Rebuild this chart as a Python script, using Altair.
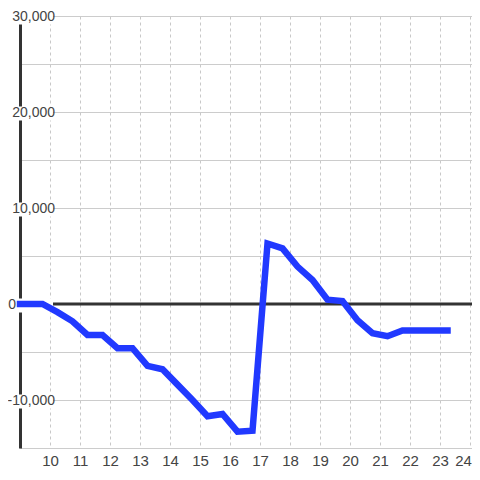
import altair as alt
import pandas as pd

# data
hours = [9.0, 9.75, 10.25, 10.75, 11.25, 11.75, 12.25, 12.75, 13.25, 13.75,
         14.25, 14.75, 15.25, 15.75, 16.25, 16.75, 17.25, 17.75, 18.25, 18.75,
         19.25, 19.75, 20.25, 20.75, 21.25, 21.75, 22.25, 22.75, 23.25]
values = [0, 0, -850, -1800, -3230, -3230, -4600, -4600, -6450, -6800,
          -8400, -10000, -11700, -11450, -13300, -13200, 6300, 5800, 3900, 2500,
          450, 300, -1700, -3050, -3350, -2750, -2750, -2750, -2750]

y_tick_vals = [30000, 20000, 10000, 0, -10000]
y_tick_text = ["30,000", "20,000", "10,000", "0", "-10,000"]
grid_vals = [-15000, -10000, -5000, 0, 5000, 10000, 15000, 20000, 25000, 30000]
x_ticks = list(range(10, 25))

df = pd.DataFrame({"h": hours, "v": values})
ylab = pd.DataFrame({"v": y_tick_vals, "t": y_tick_text})
zero = pd.DataFrame({"v": [0]})

W, H = 452, 432
XD = [9, 9 + W / 30.0]
YD = [-15000, 30000]

xs = alt.Scale(domain=XD, nice=False, zero=False)
ys = alt.Scale(domain=YD, nice=False, zero=False)

base_x = alt.X("h:Q", scale=xs, title=None,
               axis=alt.Axis(values=x_ticks, grid=True, gridDash=[3, 3], gridColor="#c8c8c8",
                             ticks=False, domain=False, labelFontSize=15, labelColor="#444444",
                             labelFont="Liberation Sans", labelPadding=5, zindex=0,
                             labelFlush=False,
                             labelOffset={"condition": {"test": "datum.value == 24", "value": -7},
                                          "value": 0}))
base_y = alt.Y("v:Q", scale=ys, title=None,
               axis=alt.Axis(values=grid_vals, grid=True, gridColor="#cccccc", labels=False,
                             ticks=False, domain=True, domainColor="#333333", domainWidth=3,
                             zindex=0))

line = alt.Chart(df).mark_line(color="#2139ff", strokeWidth=6.5, strokeCap="square",
                               strokeJoin="miter").encode(x=base_x, y=base_y)

zline = alt.Chart(zero).mark_rule(color="#333333", strokeWidth=3).encode(
    y=alt.Y("v:Q", scale=ys), x=alt.value(0), x2=alt.value(W))

bands = alt.Chart(ylab).mark_rule(color="white", strokeWidth=14, yOffset=1.5).encode(
    y=alt.Y("v:Q", scale=ys), x=alt.value(-6), x2=alt.value(33))

txt_main = alt.Chart(ylab).transform_filter("datum.v != 0").mark_text(
    align="right", baseline="middle", fontSize=14, font="Liberation Sans",
    color="#444444", dy=1).encode(y=alt.Y("v:Q", scale=ys), x=alt.value(35), text="t:N")

txt_zero = alt.Chart(ylab).transform_filter("datum.v == 0").mark_text(
    align="right", baseline="middle", fontSize=14, font="Liberation Sans",
    color="#444444", dy=1).encode(y=alt.Y("v:Q", scale=ys), x=alt.value(-4), text="t:N")

chart = alt.layer(zline, bands, line, txt_main, txt_zero).properties(
    width=W, height=H,
    autosize=alt.AutoSizeParams(type="none"),
    padding={"left": 12, "top": 8, "right": 0, "bottom": 24},
).configure_view(stroke=None).configure(background="white")

chart.save("out.html", embed_options={"renderer": "svg", "actions": False})
